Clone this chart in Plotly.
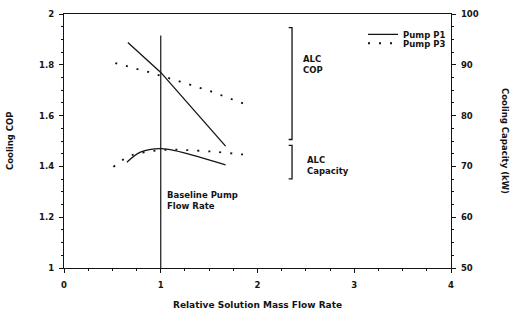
import plotly.graph_objects as go

# ---- data ----
flow_p1_cop = [0.66, 1.0, 1.67]
cop_p1 = [1.888, 1.77, 1.48]

flow_p3_cop = [0.53, 0.87, 1.2, 1.52, 1.93]
cop_p3 = [1.807, 1.772, 1.734, 1.695, 1.637]

flow_p1_cap = [0.65, 0.79, 1.01, 1.41, 1.67]
cap_p1 = [70.8, 72.8, 73.5, 71.8, 70.3]

flow_p3_cap = [0.51, 0.6, 0.7, 0.9, 1.1, 1.27, 1.54, 1.82, 1.94]
cap_p3 = [69.9, 71.2, 72.2, 73.0, 73.3, 73.2, 72.9, 72.4, 72.2]

baseline_flow = 1.0
baseline_top = 1.915

x_ticks = [0, 1, 2, 3, 4]
cop_ticks = [1, 1.2, 1.4, 1.6, 1.8, 2]
cop_tick_text = ["1", "1.2", "1.4", "1.6", "1.8", "2"]
cap_ticks = [50, 60, 70, 80, 90, 100]

ink = "#141414"
FONT = "DejaVu Sans"
fnt = dict(family=FONT, size=8.5, color=ink, weight="bold")
tfnt = dict(family=FONT, size=9, color=ink, weight="bold")

fig = go.Figure()
fig.add_trace(go.Scatter(x=flow_p1_cop, y=cop_p1, mode="lines", name="Pump P1",
                         line=dict(color=ink, width=1.3), yaxis="y", legend="legend"))
fig.add_trace(go.Scatter(x=flow_p3_cop, y=cop_p3, mode="lines", name="Pump P3",
                         line=dict(color=ink, width=1.8, dash="2px,9px"), yaxis="y",
                         legend="legend2"))
fig.add_trace(go.Scatter(x=flow_p1_cap, y=cap_p1, mode="lines", name="Pump P1",
                         showlegend=False, line=dict(color=ink, width=1.3, shape="spline"),
                         yaxis="y2"))
fig.add_trace(go.Scatter(x=flow_p3_cap, y=cap_p3, mode="lines", name="Pump P3",
                         showlegend=False,
                         line=dict(color=ink, width=1.8, dash="2px,9px", shape="spline"),
                         yaxis="y2"))

# baseline vertical line
fig.add_shape(type="line", xref="x", yref="y", x0=baseline_flow, x1=baseline_flow,
              y0=1, y1=baseline_top, line=dict(color=ink, width=1.2))

# brackets
bx = 2.357
tk = 0.035
fig.add_shape(type="path", xref="x", yref="y",
              path=f"M {bx-tk},1.946 L {bx},1.946 L {bx},1.506 L {bx-tk},1.506",
              line=dict(color=ink, width=1.3))
fig.add_shape(type="path", xref="x", yref="y",
              path=f"M {bx-tk},1.483 L {bx},1.483 L {bx},1.351 L {bx-tk},1.351",
              line=dict(color=ink, width=1.3))

fig.add_annotation(x=2.45, y=1.80, xref="x", yref="y", text="ALC<br>COP",
                   showarrow=False, xanchor="left", yanchor="middle", align="left", font=fnt)
fig.add_annotation(x=2.49, y=1.402, xref="x", yref="y", text="ALC<br>Capacity",
                   showarrow=False, xanchor="left", yanchor="middle", align="left", font=fnt)
fig.add_annotation(x=1.04, y=1.265, xref="x", yref="y", text="Baseline Pump<br>Flow Rate",
                   showarrow=False, xanchor="left", yanchor="middle", align="left", font=fnt)

# axis titles
fig.add_annotation(x=0, y=0.5, xref="paper", yref="paper", text="Cooling COP",
                   showarrow=False, textangle=-90, xshift=-54, xanchor="center",
                   yanchor="middle", font=fnt)
fig.add_annotation(x=1, y=0.5, xref="paper", yref="paper", text="Cooling Capacity (kW)",
                   showarrow=False, textangle=90, xshift=54, xanchor="center",
                   yanchor="middle", font=fnt)
fig.add_annotation(x=0.5, y=0, xref="paper", yref="paper", text="Relative Solution Mass Flow Rate",
                   showarrow=False, yshift=-37, xanchor="center", yanchor="middle", font=tfnt)

axis_common = dict(showgrid=False, zeroline=False, showline=True, linecolor=ink, linewidth=1.4,
                   ticks="outside", ticklen=4, tickwidth=1.2, tickcolor=ink, tickfont=fnt)

leg_common = dict(x=1, xanchor="right", yanchor="top", bgcolor="rgba(0,0,0,0)",
                  font=fnt, itemwidth=30)

fig.update_layout(
    width=511, height=314,
    margin=dict(l=64, r=60, t=9, b=46),
    paper_bgcolor="white", plot_bgcolor="white",
    xaxis=dict(range=[0, 4], tickvals=x_ticks, mirror=True, ticklabelstandoff=5,
               minor=dict(dtick=0.25, ticks="outside", ticklen=2, tickcolor=ink),
               **axis_common),
    yaxis=dict(range=[1, 2], tickvals=cop_ticks, ticktext=cop_tick_text, ticklabelstandoff=3,
               minor=dict(dtick=0.05, ticks="outside", ticklen=2, tickcolor=ink),
               **axis_common),
    yaxis2=dict(range=[50, 100], tickvals=cap_ticks, overlaying="y", side="right",
                ticklabelstandoff=3,
                minor=dict(dtick=2.5, ticks="outside", ticklen=2, tickcolor=ink),
                **axis_common),
    legend=dict(y=0.977, **leg_common),
    legend2=dict(y=0.942, **leg_common),
    showlegend=True,
)

fig.write_html("out.html", config={"displayModeBar": False},
               post_script="document.body.style.margin='0px';")
